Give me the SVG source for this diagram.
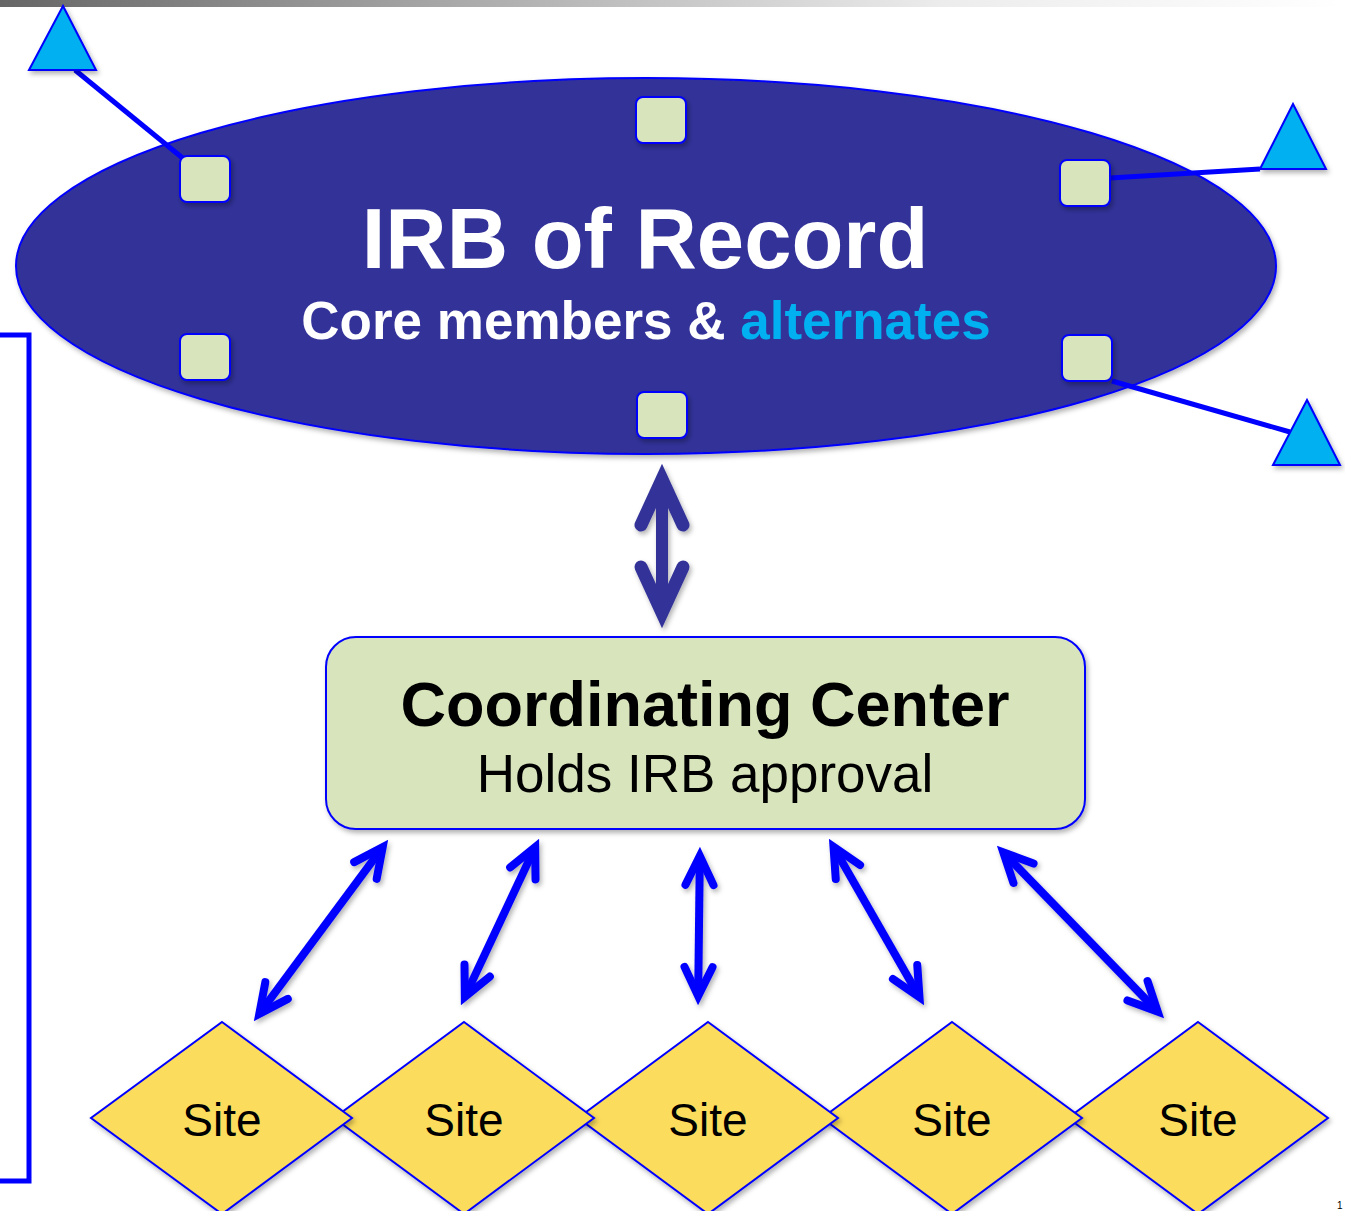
<svg xmlns="http://www.w3.org/2000/svg" width="1345" height="1211" viewBox="0 0 1345 1211">
  <defs>
    <linearGradient id="topbar" x1="0" y1="0" x2="1" y2="0">
      <stop offset="0" stop-color="#666666"/>
      <stop offset="0.35" stop-color="#ababab"/>
      <stop offset="0.7" stop-color="#ececec"/>
      <stop offset="1" stop-color="#ffffff"/>
    </linearGradient>
    <filter id="sh" x="-10%" y="-10%" width="130%" height="130%">
      <feDropShadow dx="2" dy="3" stdDeviation="2.5" flood-color="#000" flood-opacity="0.3"/>
    </filter>
    <marker id="headDark" markerUnits="userSpaceOnUse" viewBox="-50 -30 80 60" markerWidth="80" markerHeight="60" refX="0" refY="0" orient="auto-start-reverse" overflow="visible">
      <path d="M -42 -21 L 3.6 0 L -42 21" fill="none" stroke="#333399" stroke-width="13" stroke-linecap="round" stroke-linejoin="miter" stroke-miterlimit="10"/>
    </marker>
    <marker id="headBlue" markerUnits="userSpaceOnUse" viewBox="-40 -25 60 50" markerWidth="60" markerHeight="50" refX="0" refY="0" orient="auto-start-reverse" overflow="visible">
      <path d="M -26 -14 L 3 0 L -26 14" fill="none" stroke="#0000ff" stroke-width="8" stroke-linecap="round" stroke-linejoin="miter" stroke-miterlimit="10"/>
    </marker>
  </defs>
  <style>
    .sq { fill: #d8e4bc; stroke: #0000ff; stroke-width: 2; }
    .tri { fill: #00b0f0; stroke: #0000ff; stroke-width: 2; }
    .tie { stroke: #0000ff; stroke-width: 5; fill: none; }
    .site { fill: #fcdc5c; stroke: #0000ff; stroke-width: 2; }
    .sitetxt { font-family: "Liberation Sans", Arial, sans-serif; font-size: 46px; fill: #000; text-anchor: middle; }
    .blue { stroke: #0000ff; stroke-width: 8; fill: none; marker-start: url(#headBlue); marker-end: url(#headBlue); }
  </style>

  <rect x="0" y="0" width="1345" height="7" fill="url(#topbar)"/>

  <!-- left bracket -->
  <path d="M 0 335 L 29 335 L 29 1181 L 0 1181" fill="none" stroke="#0000ff" stroke-width="5"/>

  <g id="irb">
    <ellipse cx="646" cy="266" rx="630" ry="188" fill="#333399" stroke="#0000ff" stroke-width="2" filter="url(#sh)"/>
    <text x="645" y="268" font-family="Liberation Sans, Arial, sans-serif" font-weight="bold" font-size="85" fill="#ffffff" text-anchor="middle">IRB of Record</text>
    <text x="646" y="339" font-family="Liberation Sans, Arial, sans-serif" font-weight="bold" font-size="53" fill="#ffffff" text-anchor="middle">Core members &amp; <tspan fill="#00b0f0">alternates</tspan></text>
  </g>

  <g id="ties">
    <line class="tie" x1="75" y1="70" x2="185" y2="160"/>
    <line class="tie" x1="1110" y1="178" x2="1260" y2="169"/>
    <line class="tie" x1="1112" y1="381" x2="1290" y2="432"/>
  </g>

  <g id="members">
    <rect id="m1" class="sq" x="180" y="156" width="50" height="46" rx="7" filter="url(#sh)"/>
    <rect id="m2" class="sq" x="636" y="97" width="50" height="46" rx="7" filter="url(#sh)"/>
    <rect id="m3" class="sq" x="1060" y="160" width="50" height="46" rx="7" filter="url(#sh)"/>
    <rect id="m4" class="sq" x="180" y="334" width="50" height="46" rx="7" filter="url(#sh)"/>
    <rect id="m5" class="sq" x="637" y="392" width="50" height="46" rx="7" filter="url(#sh)"/>
    <rect id="m6" class="sq" x="1062" y="335" width="50" height="46" rx="7" filter="url(#sh)"/>
  </g>

  <g id="alternates">
    <polygon id="a1" class="tri" points="63,6 29,70 96,70" filter="url(#sh)"/>
    <polygon id="a2" class="tri" points="1293,104 1260,169 1326,169" filter="url(#sh)"/>
    <polygon id="a3" class="tri" points="1307,400 1273,465 1340,465" filter="url(#sh)"/>
  </g>

  <g id="coord">
    <rect x="326" y="637" width="759" height="192" rx="30" fill="#d8e4bc" stroke="#0000ff" stroke-width="2" filter="url(#sh)"/>
    <text x="705" y="726" font-family="Liberation Sans, Arial, sans-serif" font-weight="bold" font-size="63" fill="#000" text-anchor="middle">Coordinating Center</text>
    <text x="705" y="792" font-family="Liberation Sans, Arial, sans-serif" font-size="53" fill="#000" text-anchor="middle">Holds IRB approval</text>
  </g>

  <g id="sites">
    <g id="site5">
      <polygon class="site" points="1198,1022 1328,1118 1198,1214 1068,1118" filter="url(#sh)"/>
      <text class="sitetxt" x="1198" y="1136">Site</text>
    </g>
    <g id="site4">
      <polygon class="site" points="952,1022 1082,1118 952,1214 822,1118" filter="url(#sh)"/>
      <text class="sitetxt" x="952" y="1136">Site</text>
    </g>
    <g id="site3">
      <polygon class="site" points="708,1022 838,1118 708,1214 578,1118" filter="url(#sh)"/>
      <text class="sitetxt" x="708" y="1136">Site</text>
    </g>
    <g id="site2">
      <polygon class="site" points="464,1022 594,1118 464,1214 334,1118" filter="url(#sh)"/>
      <text class="sitetxt" x="464" y="1136">Site</text>
    </g>
    <g id="site1">
      <polygon class="site" points="222,1022 352,1118 222,1214 91,1118" filter="url(#sh)"/>
      <text class="sitetxt" x="222" y="1136">Site</text>
    </g>
  </g>

  <g id="connectors" filter="url(#sh)">
    <line x1="662" y1="483" x2="662" y2="609" stroke="#333399" stroke-width="12" marker-start="url(#headDark)" marker-end="url(#headDark)"/>
    <line class="blue" x1="380.9" y1="849.6" x2="261.1" y2="1011.4"/>
    <line class="blue" x1="533.9" y1="849.9" x2="466.1" y2="994.1"/>
    <line class="blue" x1="699.8" y1="859" x2="698.2" y2="993"/>
    <line class="blue" x1="835" y1="849.4" x2="918" y2="994.6"/>
    <line class="blue" x1="1005.4" y1="854.6" x2="1155.6" y2="1009.4"/>
  </g>

  <text x="1337" y="1209" font-family="Liberation Sans, Arial, sans-serif" font-size="10" fill="#000">1</text>
</svg>
